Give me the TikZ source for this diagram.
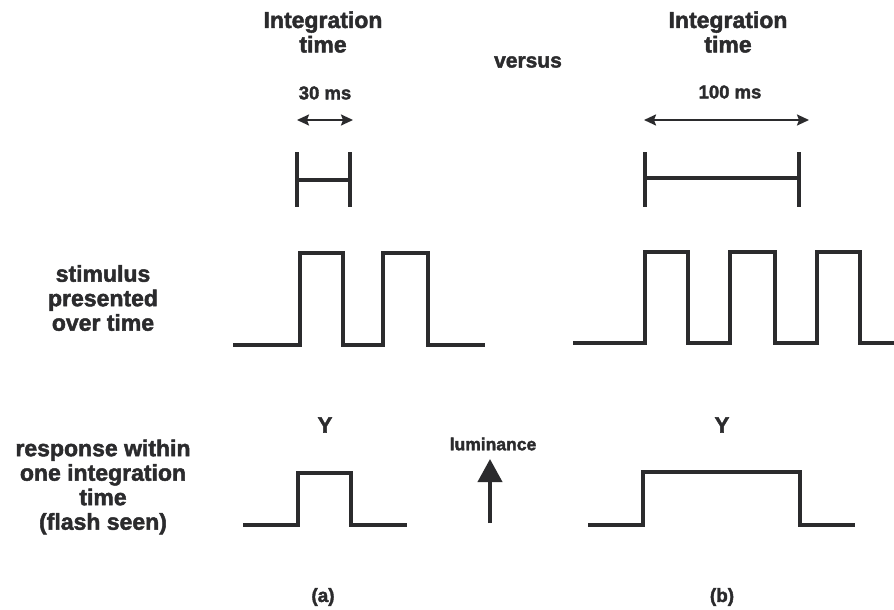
\documentclass[tikz,border=0pt]{standalone}
\usepackage{fontspec}
\setmainfont{Liberation Sans}[BoldFeatures={FakeBold=2}]
\usetikzlibrary{arrows.meta}
\definecolor{ink}{HTML}{2B2B2D}
\tikzset{
  lbl/.style={text=ink,font=\bfseries\fontsize{23}{24.5}\selectfont,align=center,inner sep=0pt},
  small/.style={text=ink,font=\bfseries\fontsize{18.5}{20}\selectfont,inner sep=0pt},
  mid/.style={text=ink,font=\bfseries\fontsize{21}{22}\selectfont,inner sep=0pt},
  wave/.style={draw=ink,line width=4.5pt,line join=miter,line cap=butt},
  bar/.style={draw=ink,line width=4pt},
  span/.style={draw=ink,line width=2pt,{Stealth[length=12pt,width=11pt,inset=2pt]}-{Stealth[length=12pt,width=11pt,inset=2pt]}},
}
\begin{document}
\begin{tikzpicture}[x=1pt,y=-1pt]
\useasboundingbox (0,0) rectangle (894,610);
\fill[white] (0,0) rectangle (894,610);

% headings
\node[lbl] (intL) at (323,32) {Integration\\time};
\node[lbl] (intR) at (728,32) {Integration\\time};
\node[mid] (versus) at (528,62) {versus};
\node[small] (msL) at (325,93) {30 ms};
\node[small] (msR) at (730,92) {100 ms};

% span arrows
\coordinate (aL1) at (297,120); \coordinate (aL2) at (353,120);
\coordinate (aR1) at (644,120); \coordinate (aR2) at (809,120);
\draw[span] (aL1) -- (aL2);
\draw[span] (aR1) -- (aR2);

% integration bars
\draw[bar] (297,152) -- (297,207);
\draw[bar] (350,152) -- (350,207);
\draw[bar] (297,180) -- (350,180);
\draw[bar] (645,152) -- (645,207);
\draw[bar] (799,152) -- (799,207);
\draw[bar] (645,178) -- (799,178);

% row labels
\node[lbl] (stim) at (103,298) {stimulus\\presented\\over time};
\node[lbl] (resp) at (103,487) {response within\\one integration\\time\\(flash seen)};

% stimulus waves
\draw[wave] (233,345) -- (300,345) -- (300,253) -- (343,253) -- (343,345)
  -- (383,345) -- (383,253) -- (428,253) -- (428,345) -- (485,345);
\draw[wave] (573,343) -- (645,343) -- (645,252) -- (688,252) -- (688,343)
  -- (730,343) -- (730,252) -- (775,252) -- (775,343)
  -- (817,343) -- (817,252) -- (860,252) -- (860,343) -- (894,343);

% response
\node[lbl,font=\bfseries\fontsize{22}{22}\selectfont] (YL) at (325,425) {Y};
\node[lbl,font=\bfseries\fontsize{22}{22}\selectfont] (YR) at (722,425) {Y};
\draw[wave] (243,525) -- (298,525) -- (298,473) -- (351,473) -- (351,525) -- (407,525);
\draw[wave] (588,525) -- (643,525) -- (643,472) -- (800,472) -- (800,525) -- (855,525);

% luminance
\node[small,font=\bfseries\fontsize{17.5}{18}\selectfont] (lum) at (493,444) {luminance};
\coordinate (lumTail) at (490,523);
\coordinate (lumTip) at (490,459);
\draw[draw=ink,fill=ink,line width=4pt,-{Triangle[length=23pt,width=24pt]}] (lumTail) -- (lumTip);

% captions
\node[lbl,font=\bfseries\fontsize{19}{20}\selectfont] (capA) at (323,597) {(a)};
\node[lbl,font=\bfseries\fontsize{19}{20}\selectfont] (capB) at (722,597) {(b)};
\end{tikzpicture}
\end{document}
